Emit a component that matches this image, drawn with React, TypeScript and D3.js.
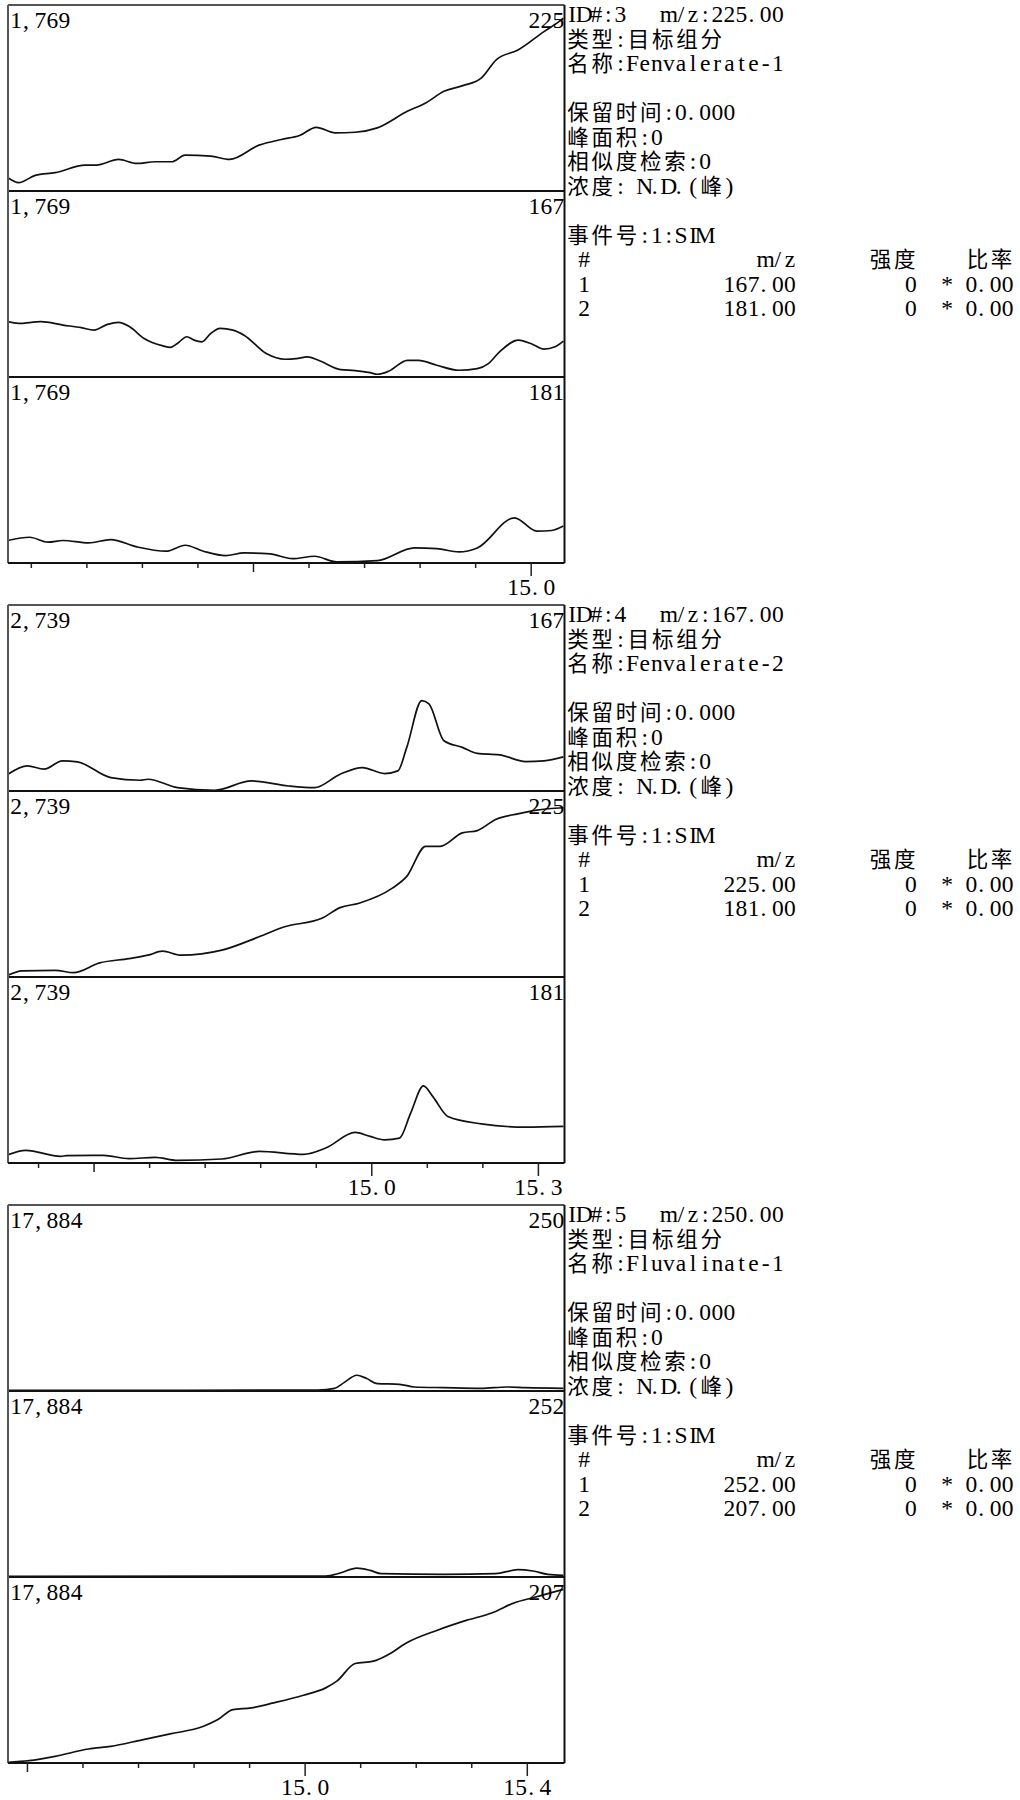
import React from 'react'
import * as d3 from 'd3'

// retention-time window shown for each compound (min)
const timeRange3 = [14.058, 15.06]
const timeRange4 = [14.345, 15.347]
const timeRange5 = [14.465, 15.467]

const labeledTicks3 = [15.0]
const labeledTicks4 = [15.0, 15.3]
const labeledTicks5 = [15.0, 15.4]

const maxIntensity3 = 1769
const maxIntensity4 = 2739
const maxIntensity5 = 17884

const ions3 = ['225', '167', '181']
const ions4 = ['167', '225', '181']
const ions5 = ['250', '252', '207']

// [time, intensity]
const id3_225 = [
  [14.058, 126], [14.077, 79], [14.107, 148], [14.143, 174], [14.197, 246], [14.217, 246],
  [14.257, 300], [14.29, 262], [14.323, 278], [14.353, 278], [14.377, 341], [14.423, 332],
  [14.457, 300], [14.51, 436], [14.55, 490], [14.583, 528], [14.613, 606], [14.647, 553],
  [14.683, 559], [14.723, 600], [14.777, 758], [14.81, 837], [14.843, 948], [14.877, 1002],
  [14.91, 1074], [14.937, 1248], [14.977, 1343], [15.023, 1516], [15.05, 1611], [15.058, 1643],
]
const id3_167 = [
  [14.058, 526], [14.077, 510], [14.117, 526], [14.157, 494], [14.19, 469], [14.213, 446],
  [14.237, 500], [14.257, 520], [14.277, 478], [14.303, 367], [14.337, 296], [14.35, 281],
  [14.363, 319], [14.38, 383], [14.393, 351], [14.407, 335], [14.423, 414], [14.44, 462],
  [14.463, 446], [14.483, 398], [14.523, 223], [14.557, 169], [14.577, 175], [14.597, 191],
  [14.617, 159], [14.657, 70], [14.683, 61], [14.71, 41], [14.723, 26], [14.743, 54],
  [14.777, 159], [14.797, 159], [14.83, 112], [14.87, 64], [14.903, 80], [14.923, 127],
  [14.943, 239], [14.977, 351], [15.003, 309], [15.023, 265], [15.043, 287], [15.058, 341],
]
const id3_181 = [
  [14.058, 214], [14.097, 245], [14.13, 198], [14.157, 214], [14.203, 191], [14.243, 223],
  [14.29, 153], [14.343, 112], [14.377, 169], [14.41, 112], [14.45, 70], [14.483, 96],
  [14.53, 86], [14.57, 41], [14.61, 64], [14.65, 10], [14.723, 22], [14.79, 143],
  [14.83, 137], [14.87, 105], [14.903, 143], [14.97, 430], [15.01, 303], [15.037, 309],
  [15.058, 351],
]
const id4_167 = [
  [14.345, 247], [14.38, 370], [14.41, 321], [14.443, 444], [14.47, 429], [14.53, 197],
  [14.583, 158], [14.597, 173], [14.65, 49], [14.717, 10], [14.783, 148], [14.85, 74],
  [14.897, 49], [14.943, 247], [14.983, 345], [15.023, 257], [15.047, 296], [15.063, 642],
  [15.09, 1332], [15.103, 1283], [15.13, 740], [15.163, 642], [15.19, 553], [15.23, 533],
  [15.277, 434], [15.31, 444], [15.345, 503],
]
const id4_225 = [
  [14.345, 25], [14.37, 89], [14.43, 99], [14.463, 64], [14.51, 207], [14.563, 271],
  [14.597, 321], [14.623, 380], [14.657, 321], [14.73, 395], [14.797, 592], [14.843, 740],
  [14.91, 864], [14.943, 1022], [14.977, 1086], [15.037, 1308], [15.063, 1481], [15.097, 1925],
  [15.123, 1925], [15.163, 2122], [15.19, 2156], [15.223, 2320], [15.263, 2403], [15.297, 2458],
  [15.345, 2492],
]
const id4_181 = [
  [14.345, 122], [14.377, 186], [14.44, 98], [14.45, 108], [14.517, 112], [14.563, 64],
  [14.61, 83], [14.65, 39], [14.73, 59], [14.797, 171], [14.877, 127], [14.917, 220],
  [14.97, 450], [14.997, 391], [15.023, 342], [15.05, 367], [15.07, 734], [15.093, 1135],
  [15.11, 978], [15.137, 685], [15.197, 577], [15.277, 528], [15.345, 538],
]
const id5_250 = [
  [14.465, 64], [14.783, 64], [15.023, 97], [15.053, 258], [15.07, 806], [15.093, 1514],
  [15.11, 1224], [15.13, 709], [15.17, 644], [15.197, 387], [15.25, 322], [15.317, 258],
  [15.363, 387], [15.397, 322], [15.465, 258],
]
const id5_252 = [
  [14.465, 64], [15.037, 96], [15.063, 383], [15.093, 862], [15.117, 639], [15.137, 319],
  [15.25, 255], [15.343, 319], [15.383, 703], [15.41, 575], [15.437, 255], [15.465, 160],
]
const id5_207 = [
  [14.465, 64], [14.503, 225], [14.55, 642], [14.61, 1348], [14.65, 1605], [14.703, 2183],
  [14.757, 2793], [14.817, 3532], [14.843, 4174], [14.87, 5137], [14.903, 5297], [14.943, 5779],
  [14.997, 6518], [15.037, 7224], [15.057, 7866], [15.09, 9569], [15.123, 9793], [15.15, 10435],
  [15.183, 11559], [15.237, 12747], [15.29, 13710], [15.337, 14449], [15.377, 15412],
  [15.41, 15894], [15.45, 16472], [15.465, 16697],
]

// fixed-width info text, one string per row
const info3 = [
  'ID#:3   m/z:225.00',
  '类型:目标组分',
  '名称:Fenvalerate-1',
  '',
  '保留时间:0.000',
  '峰面积:0',
  '相似度检索:0',
  '浓度: N.D.(峰)',
  '',
  '事件号:1:SIM',
  ' #              m/z      强度    比率',
  ' 1           167.00         0  * 0.00',
  ' 2           181.00         0  * 0.00',
]
const info4 = [
  'ID#:4   m/z:167.00',
  '类型:目标组分',
  '名称:Fenvalerate-2',
  '',
  '保留时间:0.000',
  '峰面积:0',
  '相似度检索:0',
  '浓度: N.D.(峰)',
  '',
  '事件号:1:SIM',
  ' #              m/z      强度    比率',
  ' 1           225.00         0  * 0.00',
  ' 2           181.00         0  * 0.00',
]
const info5 = [
  'ID#:5   m/z:250.00',
  '类型:目标组分',
  '名称:Fluvalinate-1',
  '',
  '保留时间:0.000',
  '峰面积:0',
  '相似度检索:0',
  '浓度: N.D.(峰)',
  '',
  '事件号:1:SIM',
  ' #              m/z      强度    比率',
  ' 1           252.00         0  * 0.00',
  ' 2           207.00         0  * 0.00',
]

const groups = [
  { range: timeRange3, maxI: maxIntensity3, ions: ions3, traces: [id3_225, id3_167, id3_181], labeled: labeledTicks3, info: info3 },
  { range: timeRange4, maxI: maxIntensity4, ions: ions4, traces: [id4_167, id4_225, id4_181], labeled: labeledTicks4, info: info4 },
  { range: timeRange5, maxI: maxIntensity5, ions: ions5, traces: [id5_250, id5_252, id5_207], labeled: labeledTicks5, info: info5 },
]

const W = 1020
const H = 1800
const TOP0 = 5
const STEP = 600
const PANEL_H = 186
const LEFT = 8
const RIGHT = 564.5
const CELL = 12.1
const INFO_X = 566
const LINE_H = 24.5

const isWide = (c: string) => c.charCodeAt(0) > 0x2e80

// one text per row, each character sitting in its own grid cell
const MonoText = ({ x, y, text, anchor = 'start' }: { x: number; y: number; text: string; anchor?: string }) => {
  const chars = Array.from(text)
  const widths = chars.map((c) => (isWide(c) ? 2 : 1))
  const total = d3.sum(widths) * CELL
  const start = anchor === 'end' ? x - total : anchor === 'middle' ? x - total / 2 : x
  let col = 0
  const spans: any[] = []
  chars.forEach((c, i) => {
    const cx = start + col * CELL
    col += widths[i]
    if (c === ' ') return
    if (isWide(c)) {
      spans.push(
        <tspan key={i} x={cx + CELL} fontFamily="'Noto Sans CJK SC'" fontSize={21.5}>
          {c}
        </tspan>
      )
    } else {
      const off = c === '.' || c === ',' ? CELL * 0.32 : CELL / 2
      spans.push(
        <tspan key={i} x={cx + off}>
          {c}
        </tspan>
      )
    }
  })
  if (!spans.length) return null
  return (
    <text y={y} textAnchor="middle" fontFamily="'Liberation Serif'" fontSize={23.5} fill="#000">
      {spans}
    </text>
  )
}

const Group = ({ g, idx }: { g: any; idx: number }) => {
  const top = TOP0 + idx * STEP
  const bottom = top + PANEL_H * 3
  const x = d3.scaleLinear().domain(g.range).range([LEFT, RIGHT])
  const ticks = x.ticks(10)
  const fmt = d3.format(',')

  return (
    <g>
      {g.traces.map((tr: number[][], p: number) => {
        const pTop = top + p * PANEL_H
        const y = d3.scaleLinear().domain([0, g.maxI]).range([pTop + PANEL_H, pTop])
        const line = d3
          .line<number[]>()
          .x((d) => x(d[0]))
          .y((d) => y(d[1]))
          .curve(d3.curveMonotoneX)
        const clipId = `clip-${idx}-${p}`
        return (
          <g key={p}>
            <clipPath id={clipId}>
              <rect x={LEFT} y={pTop} width={RIGHT - LEFT} height={PANEL_H} />
            </clipPath>
            <path d={line(tr) || ''} fill="none" stroke="#111" strokeWidth={1.7} clipPath={`url(#${clipId})`} />
            <MonoText x={LEFT + 2} y={pTop + 23} text={fmt(g.maxI)} />
            <MonoText x={RIGHT} y={pTop + 23} text={g.ions[p]} anchor="end" />
            {p > 0 && <line x1={LEFT} x2={RIGHT} y1={pTop} y2={pTop} stroke="#111" strokeWidth={2} />}
          </g>
        )
      })}
      <line x1={LEFT} x2={RIGHT} y1={top} y2={top} stroke="#555" strokeWidth={2} />
      <line x1={LEFT} x2={LEFT} y1={top} y2={bottom} stroke="#555" strokeWidth={2} />
      <line x1={RIGHT} x2={RIGHT} y1={top} y2={bottom} stroke="#111" strokeWidth={2} />
      <line x1={LEFT} x2={RIGHT} y1={bottom} y2={bottom} stroke="#111" strokeWidth={2} />
      {ticks.map((t) => {
        const lab = g.labeled.some((v: number) => Math.abs(v - t) < 1e-6)
        const major = Math.abs(t * 2 - Math.round(t * 2)) < 1e-6
        const len = lab ? 13 : major ? 9 : 5
        return (
          <g key={t}>
            <line x1={x(t)} x2={x(t)} y1={bottom} y2={bottom + len} stroke="#222" strokeWidth={1.5} />
            {lab && <MonoText x={x(t)} y={bottom + 32} text={t.toFixed(1)} anchor="middle" />}
          </g>
        )
      })}
      {g.info.map((s: string, i: number) => (
        <MonoText key={i} x={INFO_X} y={top + 17 + i * LINE_H} text={s} />
      ))}
    </g>
  )
}

export default function App() {
  return (
    <svg
      width={W}
      height={H}
      viewBox={`0 0 ${W} ${H}`}
      style={{ position: 'absolute', left: 0, top: 0, background: '#fff' }}
    >
      <rect width={W} height={H} fill="#fff" />
      {groups.map((g, i) => (
        <Group key={i} g={g} idx={i} />
      ))}
    </svg>
  )
}
